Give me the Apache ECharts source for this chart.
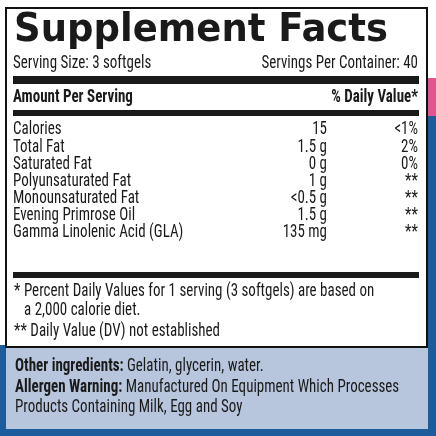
<!DOCTYPE html>
<html><head><meta charset="utf-8">
<script src="https://cdn.jsdelivr.net/npm/echarts@6/dist/echarts.min.js"></script>
<style>html,body{margin:0;padding:0;background:#fff}#c{width:436px;height:436px}</style>
</head><body><div id="c"></div>
<script>
const nutrients = ['Calories','Total Fat','Saturated Fat','Polyunsaturated Fat','Monounsaturated Fat','Evening Primrose Oil','Gamma Linolenic Acid (GLA)'];
const amounts = ['15','1.5 g','0 g','1 g','<0.5 g','1.5 g','135 mg'];
const dailyValues = ['<1%','2%','0%','**','**','**','**'];
const rowY = [129,147,164,181,198,215,232];
const F = '"Liberation Sans Narrow","Roboto Condensed","Liberation Sans",sans-serif';
const SY = 1.25;
const els = [];
els.push({type:'rect',shape:{x:428,y:0,width:8,height:78},style:{fill:'#ffffff'}});
els.push({type:'rect',shape:{x:428,y:78,width:8,height:38},style:{fill:'#e2538f'}});
els.push({type:'rect',shape:{x:428,y:116,width:8,height:320},style:{fill:'#1c5c9c'}});
els.push({type:'rect',shape:{x:0,y:345,width:436,height:91},style:{fill:'#1c5c9c'}});
els.push({type:'rect',shape:{x:6,y:347,width:422,height:82},style:{fill:'#b7c6dc'}});
els.push({type:'rect',shape:{x:6,y:8,width:421,height:339},style:{fill:'#fff',stroke:'#111',lineWidth:2}});
function t(x,y,s,size,w,align){els.push({type:'text',x:x,y:y,scaleY:SY,style:{text:s,font:(w||'normal')+' '+size+'px '+F,fill:'#1a1a1a',align:align||'left',verticalAlign:'middle'}});}
els.push({type:'text',x:14,y:31,scaleY:1.05,style:{text:'Supplement Facts',font:'900 37px "DejaVu Sans",sans-serif',fill:'#1a1a1a',verticalAlign:'middle'}});
t(13,63,'Serving Size: 3 softgels',15);
t(418,63,'Servings Per Container: 40',15,'normal','right');
els.push({type:'rect',shape:{x:13,y:76,width:406,height:8},style:{fill:'#1a1a1a'}});
t(13,97,'Amount Per Serving',15,'bold');
t(418,97,'% Daily Value*',15,'bold','right');
els.push({type:'rect',shape:{x:13,y:110,width:406,height:6},style:{fill:'#1a1a1a'}});
nutrients.forEach((n,i)=>{t(13,rowY[i],n,15);t(327,rowY[i],amounts[i],15,'normal','right');t(418,rowY[i],dailyValues[i],15,'normal','right');});
els.push({type:'rect',shape:{x:13,y:272,width:406,height:6},style:{fill:'#1a1a1a'}});
t(14,291,'* Percent Daily Values for 1 serving (3 softgels) are based on',15);
t(24,310,'a 2,000 calorie diet.',15);
t(14,331,'** Daily Value (DV) not established',15);
els.push({type:'text',x:15,y:366,scaleY:SY,style:{rich:{b:{font:'bold 15px '+F,fill:'#1a1a1a'},n:{font:'15px '+F,fill:'#1a1a1a'}},text:'{b|Other ingredients:} {n|Gelatin, glycerin, water.}',verticalAlign:'middle'}});
els.push({type:'text',x:15,y:387,scaleY:SY,style:{rich:{b:{font:'bold 15px '+F,fill:'#1a1a1a'},n:{font:'15px '+F,fill:'#1a1a1a'}},text:'{b|Allergen Warning:} {n|Manufactured On Equipment Which Processes}',verticalAlign:'middle'}});
t(15,407,'Products Containing Milk, Egg and Soy',15);
const chart = echarts.init(document.getElementById('c'));
chart.setOption({animation:false,graphic:{elements:els}});
</script></body></html>
